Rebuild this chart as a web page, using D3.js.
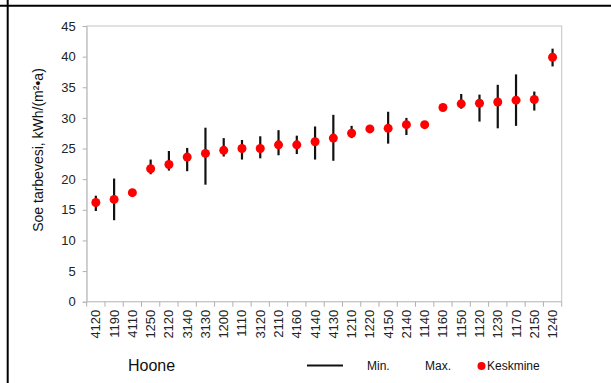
<!DOCTYPE html>
<html>
<head>
<meta charset="utf-8">
<style>
  body { margin: 0; background: #fff; }
  svg { display: block; font-family: "Liberation Sans", Arial, sans-serif; }
</style>
</head>
<body>
<svg id="chart" width="611" height="383"></svg>
<script src="https://d3js.org/d3.v7.min.js"></script>
<script>
// building codes, sorted by mean
var buildings = ["4120","1190","4110","1250","2120","3140","3130","1200","1110","3120","2110","4160","4140",
                 "4130","1210","1220","4150","2140","1140","1160","1150","1120","1230","1170","2150","1240"];
var meanVals = [16.2,16.7,17.8,21.7,22.4,23.6,24.2,24.7,25.0,25.0,25.6,25.6,26.1,
                26.7,27.5,28.2,28.3,28.9,28.9,31.7,32.3,32.4,32.6,32.9,33.0,39.9];
var minVals  = [14.8,13.3,17.4,20.8,21.4,21.3,19.1,23.7,23.2,23.4,23.9,24.1,23.2,
                23.0,26.7,28.2,25.8,27.2,28.9,31.7,31.5,29.4,28.3,28.7,31.2,38.4];
var maxVals  = [17.3,20.1,18.4,23.2,24.6,25.1,28.4,26.7,26.4,27.0,28.0,27.1,28.6,
                30.5,28.7,28.2,31.0,30.0,28.9,31.7,33.9,33.8,35.4,37.1,34.3,41.3];
var yTicks = [0,5,10,15,20,25,30,35,40,45];

var svg = d3.select("#chart");
var plotL = 86.7, plotR = 561.7, plotT = 26, plotB = 301.7;

// page borders
svg.append("line").attr("x1",0).attr("x2",611).attr("y1",5.8).attr("y2",5.8)
  .attr("stroke","#000").attr("stroke-width",2);
svg.append("line").attr("x1",7.7).attr("x2",7.7).attr("y1",0).attr("y2",383)
  .attr("stroke","#000").attr("stroke-width",2);

var x = d3.scaleBand().domain(buildings).range([plotL, plotR]).padding(0);
var y = d3.scaleLinear().domain([0,45]).range([plotB, plotT]);

// frame
svg.append("rect").attr("x",plotL).attr("y",plotT).attr("width",plotR-plotL).attr("height",plotB-plotT)
  .attr("fill","none").attr("stroke","#c4c4c4").attr("stroke-width",1);

// y axis
var yAxis = svg.append("g").attr("transform","translate(" + plotL + ",0)")
  .call(d3.axisLeft(y).tickValues(yTicks).tickSize(4).tickPadding(7));
yAxis.select(".domain").attr("stroke","#c4c4c4");
yAxis.selectAll(".tick line").attr("stroke","#b0b0b0");
yAxis.selectAll(".tick text").attr("fill","#222").style("font-size","13px")
  .style("font-family","Liberation Sans, Arial, sans-serif");

// x axis: ticks at category boundaries
var xAxis = svg.append("g").attr("transform","translate(0," + plotB + ")");
xAxis.append("line").attr("x1",plotL).attr("x2",plotR).attr("stroke","#c4c4c4");
var bounds = buildings.map(function(d){ return x(d); }).concat([plotR]);
xAxis.selectAll(".bt").data(bounds).enter().append("line")
  .attr("x1",function(d){return d;}).attr("x2",function(d){return d;})
  .attr("y1",0).attr("y2",5).attr("stroke","#b0b0b0");
xAxis.selectAll(".xl").data(buildings).enter().append("text")
  .attr("transform",function(d){ return "translate(" + (x(d)+x.bandwidth()/2 + 4.5) + ",8) rotate(-90)"; })
  .attr("text-anchor","end")
  .style("font-size","13px").attr("fill","#222")
  .text(function(d){ return d; });

// min-max bars
var idx = d3.range(buildings.length);
svg.selectAll(".rng").data(idx).enter().append("line")
  .attr("x1",function(i){ return x(buildings[i]) + x.bandwidth()/2; })
  .attr("x2",function(i){ return x(buildings[i]) + x.bandwidth()/2; })
  .attr("y1",function(i){ return y(minVals[i]); })
  .attr("y2",function(i){ return y(maxVals[i]); })
  .attr("stroke","#111").attr("stroke-width",2.2);

// means
svg.selectAll(".mean").data(idx).enter().append("circle")
  .attr("cx",function(i){ return x(buildings[i]) + x.bandwidth()/2; })
  .attr("cy",function(i){ return y(meanVals[i]); })
  .attr("r",4.5).attr("fill","#ff0000");

// y title
svg.append("text").attr("transform","translate(43,150) rotate(-90)")
  .attr("text-anchor","middle").style("font-size","14px").attr("fill","#111")
  .text("Soe tarbevesi, kWh/(m²•a)");

// legend
svg.append("text").attr("x",128).attr("y",371).style("font-size","16px").attr("fill","#111").text("Hoone");
svg.append("line").attr("x1",307).attr("x2",343).attr("y1",365.5).attr("y2",365.5)
  .attr("stroke","#111").attr("stroke-width",2);
svg.append("text").attr("x",367).attr("y",370).style("font-size","12px").attr("fill","#111").text("Min.");
svg.append("text").attr("x",425).attr("y",370).style("font-size","12px").attr("fill","#111").text("Max.");
svg.append("circle").attr("cx",481.5).attr("cy",366).attr("r",4).attr("fill","#ff0000");
svg.append("text").attr("x",487).attr("y",370).style("font-size","12px").attr("fill","#111").text("Keskmine");
</script>
</body>
</html>
